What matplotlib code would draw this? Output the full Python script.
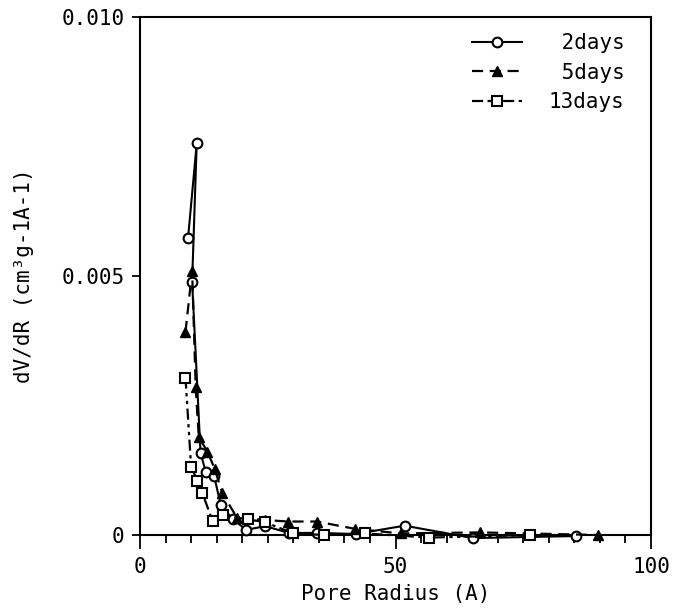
import matplotlib
matplotlib.use("Agg")
import matplotlib.pyplot as plt
from matplotlib.ticker import MultipleLocator

plt.rcParams['font.family'] = ['DejaVu Sans Mono']

# 2 days (open circles, solid)
x_2d = [9.4, 11.1, 10.2, 11.85, 12.9, 14.5, 15.8, 18.2, 20.8, 24.5, 29.2, 34.6, 42.2, 51.8, 65.2, 85.3]
y_2d = [0.00573, 0.00756, 0.00489, 0.00158, 0.00121, 0.00114, 0.00058, 0.00030, 0.00010, 0.00017,
        0.00004, 0.00004, 0.00002, 0.00018, -0.00006, -0.00002]

# 5 days (filled triangles, dashed)
x_5d = [8.9, 10.2, 10.9, 11.5, 13.2, 14.6, 16.1, 19.0, 24.4, 29.0, 34.6, 42.0, 51.0, 66.6, 89.6]
y_5d = [0.00392, 0.00510, 0.00285, 0.00189, 0.00161, 0.00128, 0.00081, 0.00033, 0.00029, 0.00026,
        0.00026, 0.00012, 0.00003, 0.00005, 0.0]

# 13 days (open squares, dash-dot-dot)
x_13d = [8.9, 10.0, 11.2, 12.2, 14.2, 16.3, 21.2, 24.4, 30.0, 36.0, 44.0, 56.6, 76.3]
y_13d = [0.00304, 0.00132, 0.00105, 0.00081, 0.00027, 0.00038, 0.00030, 0.00025, 0.00003, 0.0,
         0.00003, -0.00005, 0.0]

fig = plt.figure(figsize=(6.77, 6.16), dpi=100)
ax = fig.add_axes([0.2068, 0.1315, 0.7548, 0.8409])

ax.plot(x_2d, y_2d, color='black', lw=1.5, ls='-', marker='o', ms=7,
        mfc='white', mec='black', mew=1.5, label=' 2days', clip_on=False, zorder=3)
ax.plot(x_5d, y_5d, color='black', lw=1.6, ls=(0, (5, 3)), marker='^', ms=7,
        mfc='black', mec='black', label=' 5days', clip_on=False, zorder=3)
ax.plot(x_13d, y_13d, color='black', lw=1.6, ls=(0, (5, 2, 1.5, 2, 1.5, 2)), marker='s', ms=7,
        mfc='white', mec='black', mew=1.5, label='13days', clip_on=False, zorder=3)

ax.set_xlim(0, 100)
ax.set_ylim(0, 0.010)
ax.set_xticks([0, 50, 100])
ax.set_xticklabels(['0', '50', '100'])
ax.xaxis.set_minor_locator(MultipleLocator(5))
ax.set_yticks([0, 0.005, 0.010])
ax.set_yticklabels(['0', '0.005', '0.010'])

ax.tick_params(axis='x', which='major', direction='out', length=10, width=1.3, labelsize=15, pad=6)
ax.tick_params(axis='x', which='minor', direction='out', length=6, width=1.3)
ax.tick_params(axis='y', which='major', direction='out', length=6, width=1.3, labelsize=15, pad=5)
for s in ax.spines.values():
    s.set_linewidth(1.5)

ax.set_xlabel('Pore Radius (A)', fontsize=15, labelpad=5)
ax.set_ylabel('dV/dR (cm³g-1A-1)', fontsize=15, labelpad=20)

ax.legend(loc='upper right', frameon=False, fontsize=15, handlelength=2.4,
          handletextpad=1.3, labelspacing=0.45, bbox_to_anchor=(0.985, 1.005))

fig.savefig('out.png', dpi=100)
